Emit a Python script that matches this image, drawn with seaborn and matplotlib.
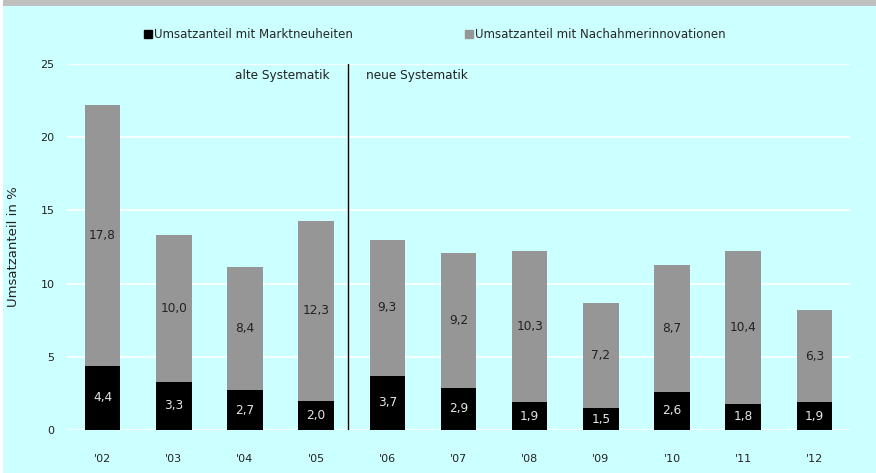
import matplotlib
matplotlib.use("Agg")
import matplotlib.pyplot as plt
from matplotlib.lines import Line2D
from matplotlib.patches import Rectangle
import seaborn as sns
import pandas as pd

years = ["'02", "'03", "'04", "'05", "'06", "'07", "'08", "'09", "'10", "'11", "'12"]
markt = [4.4, 3.3, 2.7, 2.0, 3.7, 2.9, 1.9, 1.5, 2.6, 1.8, 1.9]
nachahmer = [17.8, 10.0, 8.4, 12.3, 9.3, 9.2, 10.3, 7.2, 8.7, 10.4, 6.3]
series_names = ["Umsatzanteil mit Marktneuheiten", "Umsatzanteil mit Nachahmerinnovationen"]
y_ticks = [0, 5, 10, 15, 20, 25]

def fmt(v):
    return f"{v:.1f}".replace(".", ",")

df = pd.DataFrame({"year": years, "markt": markt, "nachahmer": nachahmer})
df["total"] = df["markt"] + df["nachahmer"]

BG = "#CCFFFF"
GRAY = "#969696"
TXT = "#222222"

sns.set_theme(style="white")
plt.rcParams["font.family"] = ["DejaVu Sans"]

fig = plt.figure(figsize=(8.76, 4.73), dpi=100, facecolor=BG)
ax = fig.add_axes([67 / 876, 1 - 430 / 473, (850 - 67) / 876, (430 - 64) / 473])
ax.set_facecolor(BG)

# gray band at top, white strip at left
fig.patches.append(Rectangle((0, 1 - 6 / 473), 1, 6 / 473, transform=fig.transFigure,
                             facecolor="#C0C0C0", edgecolor="none", zorder=0))
fig.patches.append(Rectangle((0, 0), 3 / 876, 1, transform=fig.transFigure,
                             facecolor="white", edgecolor="none", zorder=0))

for yv in y_ticks:
    ax.axhline(yv, color="white", lw=1.2, zorder=0)

sns.barplot(data=df, x="year", y="total", color=GRAY, width=0.5, ax=ax,
            saturation=1, zorder=2, edgecolor="none", linewidth=0)
sns.barplot(data=df, x="year", y="markt", color="black", width=0.5, ax=ax,
            saturation=1, zorder=3, edgecolor="none", linewidth=0)

for i, (m, n) in enumerate(zip(markt, nachahmer)):
    ax.text(i, m + n / 2, fmt(n), ha="center", va="center", fontsize=8.7,
            color=TXT, zorder=4)
    ax.text(i, m / 2, fmt(m), ha="center", va="center", fontsize=8.7,
            color="#E6E6E6", zorder=4)

ax.set_ylim(0, 25)
ax.set_xlim(-0.5, len(years) - 0.5)
ax.set_yticks(y_ticks)
ax.set_yticklabels([str(v) for v in y_ticks])
ax.tick_params(axis="y", length=0, pad=9, labelsize=8, labelcolor=TXT)
ax.tick_params(axis="x", length=0, pad=17, labelsize=8, labelcolor=TXT)
ax.set_xlabel("")
ax.set_ylabel("Umsatzanteil in %", fontsize=9.5, color=TXT, labelpad=15)
for s in ax.spines.values():
    s.set_visible(False)

ax.plot([3.45, 3.45], [0, 25], color="black", lw=1, zorder=5)
ax.text(3.19, 24.2, "alte Systematik", ha="right", va="center", fontsize=8.7, color=TXT)
ax.text(3.7, 24.2, "neue Systematik", ha="left", va="center", fontsize=8.7, color=TXT)

handles = [Line2D([], [], marker="s", ls="", color="black", markersize=5.5),
           Line2D([], [], marker="s", ls="", color=GRAY, markersize=5.5)]
fig.legend(handles, series_names, loc="center left", bbox_to_anchor=(134 / 876, 1 - 35 / 473),
           ncol=2, frameon=False, handlelength=0.6, handletextpad=0.2, columnspacing=9.5,
           prop={"family": ["DejaVu Sans"], "size": 8.5})

fig.savefig("out.png", dpi=100, facecolor=BG)
